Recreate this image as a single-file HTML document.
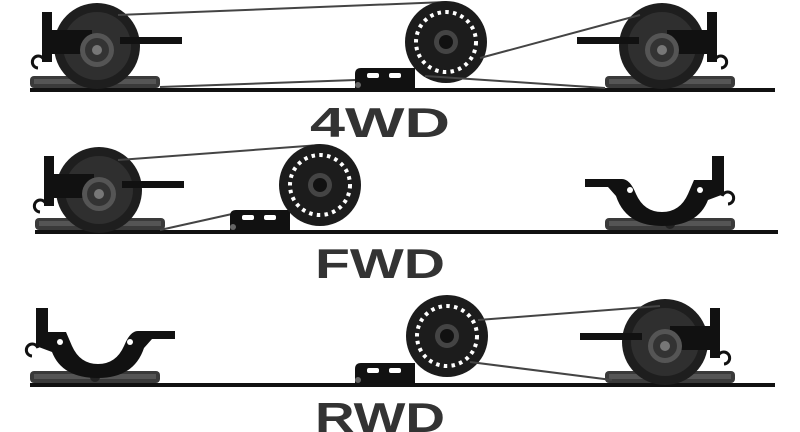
<!DOCTYPE html>
<html><head><meta charset="utf-8"><style>
html,body{margin:0;padding:0;background:#fff;width:800px;height:432px;overflow:hidden}
svg{display:block}
text{font-family:"Liberation Sans",sans-serif;font-weight:bold;fill:#333;font-size:42px;text-anchor:middle}
</style></head><body>
<svg width="800" height="432" viewBox="0 0 800 432" xmlns="http://www.w3.org/2000/svg">
<defs>
<g id="skid">
 <rect x="0" y="0" width="130" height="12" rx="4" fill="#3a3a3a"/>
 <rect x="4" y="3" width="122" height="5" fill="#555"/>
 <circle cx="65" cy="6" r="5" fill="#222"/>
</g>
<g id="wheelL">
 <rect x="42" y="12" width="10" height="50" fill="#111"/>
 <path d="M44 60 a6 6 0 1 0 -6 8" stroke="#111" stroke-width="3" fill="none"/>
 <circle cx="97" cy="46" r="43" fill="#1e1e1e"/>
 <circle cx="97" cy="46" r="34" fill="#2f2f2f"/>
 <rect x="52" y="30" width="40" height="24" fill="#111"/>
 <rect x="120" y="37" width="62" height="7" fill="#111"/>
 <circle cx="97" cy="50" r="17" fill="#555"/>
 <circle cx="97" cy="50" r="12" fill="#333"/>
 <circle cx="97" cy="50" r="5" fill="#777"/>
</g>
<g id="pulley">
 <circle cx="0" cy="0" r="41" fill="#1c1c1c"/>
 <circle cx="0" cy="0" r="30" fill="none" stroke="#fff" stroke-width="4" stroke-dasharray="3.5 4.3"/>
 <circle cx="0" cy="0" r="12" fill="#444"/>
 <circle cx="0" cy="0" r="7" fill="#111"/>
</g>
<g id="mount">
 <path d="M0 22 L0 6 Q0 0 6 0 L60 0 L60 22 Z" fill="#111"/>
 <rect x="12" y="5" width="12" height="5" rx="2" fill="#fff"/>
 <rect x="34" y="5" width="12" height="5" rx="2" fill="#fff"/>
 <circle cx="3" cy="17" r="3" fill="#666"/>
</g>
<g id="ubr">
 <path d="M585 179 L622 179 Q630 179 636 194 Q644 212 662 212 Q680 212 688 194 L694 180 L712 180 L712 156 L724 156 L724 194 L708 200 Q698 226 662 226 Q626 226 616 196 L608 187 L585 187 Z" fill="#111"/>
 <circle cx="630" cy="190" r="3" fill="#fff"/>
 <circle cx="700" cy="190" r="3" fill="#fff"/>
 <path d="M722 196 a6 6 0 1 1 6 8" stroke="#111" stroke-width="3" fill="none"/>
</g>
</defs>

<rect x="30" y="88" width="745" height="4" fill="#111"/>
<use href="#skid" x="30" y="76"/>
<use href="#wheelL"/>
<line x1="118" y1="15" x2="446" y2="2" stroke="#444" stroke-width="2"/>
<line x1="160" y1="87" x2="356" y2="80" stroke="#444" stroke-width="2"/>
<use href="#mount" x="355" y="68"/>
<use href="#pulley" x="446" y="42"/>
<g transform="translate(757,0) scale(-1,1)"><use href="#skid" x="22" y="76"/><use href="#wheelL" x="-2"/></g>
<line x1="480" y1="58" x2="640" y2="15" stroke="#444" stroke-width="2"/>
<line x1="425" y1="76" x2="605" y2="88" stroke="#444" stroke-width="2"/>
<text x="380" y="137" textLength="140" lengthAdjust="spacingAndGlyphs">4WD</text>

<rect x="35" y="230" width="743" height="4" fill="#111"/>
<use href="#skid" x="35" y="218"/>
<use href="#wheelL" x="2" y="144"/>
<line x1="118" y1="160" x2="320" y2="145" stroke="#444" stroke-width="2"/>
<line x1="160" y1="230" x2="232" y2="214" stroke="#444" stroke-width="2"/>
<use href="#mount" x="230" y="210"/>
<use href="#pulley" x="320" y="185"/>
<use href="#skid" x="605" y="218"/>
<use href="#ubr"/>
<text x="380" y="278" textLength="130" lengthAdjust="spacingAndGlyphs">FWD</text>

<rect x="30" y="383" width="745" height="4" fill="#111"/>
<use href="#skid" x="30" y="371"/>
<g transform="translate(760,152) scale(-1,1)"><use href="#ubr"/></g>
<use href="#mount" x="355" y="363"/>
<use href="#pulley" x="447" y="336"/>
<g transform="translate(762,296) scale(-1,1)"><use href="#skid" x="27" y="75"/><use href="#wheelL"/></g>
<line x1="478" y1="320" x2="660" y2="306" stroke="#444" stroke-width="2"/>
<line x1="470" y1="362" x2="612" y2="380" stroke="#444" stroke-width="2"/>
<text x="380" y="432" textLength="130" lengthAdjust="spacingAndGlyphs">RWD</text>
</svg>
</body></html>
